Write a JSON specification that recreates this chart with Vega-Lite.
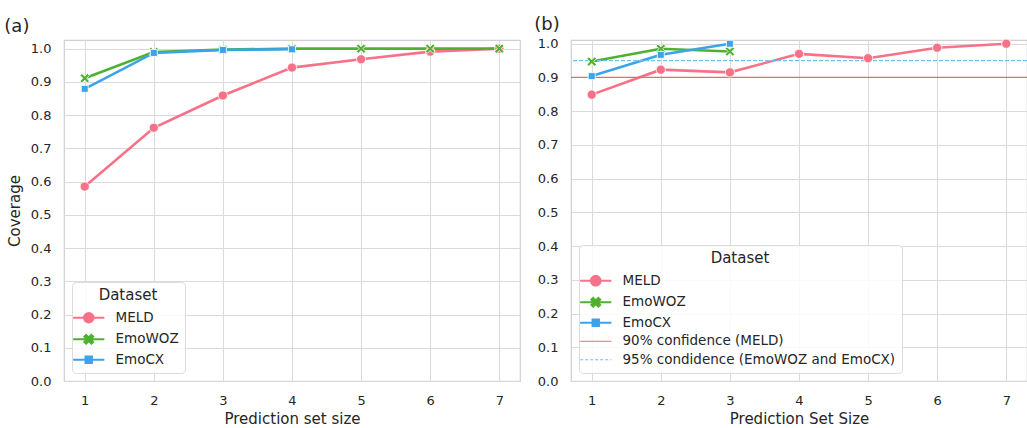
{
  "$schema": "https://vega.github.io/schema/vega-lite/v6.json",
  "padding": {"left": 3, "top": 14, "right": 0, "bottom": 0},
  "background": "white",
  "config": {
    "font": "DejaVu Sans",
    "view": {"stroke": "#cfcfcf", "strokeWidth": 1.2},
    "axis": {"grid": true, "gridColor": "#dadada", "gridWidth": 1, "domain": false, "ticks": false, "tickSize": 0, "labelFontSize": 13, "labelColor": "#262626", "titleFontSize": 15, "titleColor": "#262626", "titleFontWeight": "normal", "labelPadding": 13, "labelOverlap": false, "labelFlush": false},
    "legend": {"titleFontSize": 15, "titleFontWeight": "normal", "titleColor": "#262626", "titleAnchor": "middle", "labelFontSize": 13.5, "labelColor": "#262626", "labelLimit": 500, "fillColor": "rgba(255,255,255,0.85)", "strokeColor": "#dcdcdc", "cornerRadius": 4, "padding": 6, "offset": 8, "symbolSize": 64, "symbolOffset": 4, "labelOffset": 20, "rowPadding": 3.5, "titlePadding": 8},
    "title": {"fontSize": 18, "fontWeight": "normal", "color": "#262626"},
    "concat": {"spacing": 12}
  },
  "datasets": {
    "a": [
      {"SetSize": 1, "Coverage": 0.585, "Dataset": "MELD"},
      {"SetSize": 2, "Coverage": 0.762, "Dataset": "MELD"},
      {"SetSize": 3, "Coverage": 0.859, "Dataset": "MELD"},
      {"SetSize": 4, "Coverage": 0.943, "Dataset": "MELD"},
      {"SetSize": 5, "Coverage": 0.968, "Dataset": "MELD"},
      {"SetSize": 6, "Coverage": 0.991, "Dataset": "MELD"},
      {"SetSize": 7, "Coverage": 1.0, "Dataset": "MELD"},
      {"SetSize": 1, "Coverage": 0.911, "Dataset": "EmoWOZ"},
      {"SetSize": 2, "Coverage": 0.99, "Dataset": "EmoWOZ"},
      {"SetSize": 3, "Coverage": 0.997, "Dataset": "EmoWOZ"},
      {"SetSize": 4, "Coverage": 1.0, "Dataset": "EmoWOZ"},
      {"SetSize": 5, "Coverage": 1.0, "Dataset": "EmoWOZ"},
      {"SetSize": 6, "Coverage": 1.0, "Dataset": "EmoWOZ"},
      {"SetSize": 7, "Coverage": 1.0, "Dataset": "EmoWOZ"},
      {"SetSize": 1, "Coverage": 0.879, "Dataset": "EmoCX"},
      {"SetSize": 2, "Coverage": 0.987, "Dataset": "EmoCX"},
      {"SetSize": 3, "Coverage": 0.996, "Dataset": "EmoCX"},
      {"SetSize": 4, "Coverage": 0.998, "Dataset": "EmoCX"}
    ],
    "b": [
      {"SetSize": 1, "Coverage": 0.849, "Dataset": "MELD"},
      {"SetSize": 2, "Coverage": 0.923, "Dataset": "MELD"},
      {"SetSize": 3, "Coverage": 0.915, "Dataset": "MELD"},
      {"SetSize": 4, "Coverage": 0.97, "Dataset": "MELD"},
      {"SetSize": 5, "Coverage": 0.957, "Dataset": "MELD"},
      {"SetSize": 6, "Coverage": 0.988, "Dataset": "MELD"},
      {"SetSize": 7, "Coverage": 1.0, "Dataset": "MELD"},
      {"SetSize": 1, "Coverage": 0.947, "Dataset": "EmoWOZ"},
      {"SetSize": 2, "Coverage": 0.985, "Dataset": "EmoWOZ"},
      {"SetSize": 3, "Coverage": 0.977, "Dataset": "EmoWOZ"},
      {"SetSize": 1, "Coverage": 0.904, "Dataset": "EmoCX"},
      {"SetSize": 2, "Coverage": 0.967, "Dataset": "EmoCX"},
      {"SetSize": 3, "Coverage": 1.0, "Dataset": "EmoCX"}
    ],
    "thr": [
      {"Dataset": "90% confidence (MELD)", "Coverage": 0.9},
      {"Dataset": "95% condidence (EmoWOZ and EmoCX)", "Coverage": 0.95}
    ]
  },
  "resolve": {"scale": {"color": "independent", "x": "independent", "y": "independent", "strokeDash": "independent"}, "legend": {"color": "independent"}, "axis": {"x": "independent", "y": "independent"}},
  "hconcat": [
    {
      "width": 456,
      "height": 341,
      "title": {"text": "(a)", "anchor": "start", "frame": "bounds", "dx": -3},
      "data": {"name": "a"},
      "encoding": {
        "x": {"field": "SetSize", "type": "quantitative", "scale": {"domain": [0.7, 7.3], "nice": false, "zero": false}, "axis": {"values": [1, 2, 3, 4, 5, 6, 7], "format": "d", "title": "Prediction set size"}},
        "y": {"field": "Coverage", "type": "quantitative", "scale": {"domain": [0, 1.026], "nice": false}, "axis": {"values": [0, 0.1, 0.2, 0.3, 0.4, 0.5, 0.6, 0.7, 0.8, 0.9, 1.0], "format": ".1f", "title": "Coverage", "titlePadding": 8}}
      },
      "layer": [
        {
          "mark": {"type": "line", "strokeWidth": 2.6},
          "encoding": {
            "color": {"field": "Dataset", "type": "nominal", "scale": {"domain": ["MELD", "EmoWOZ", "EmoCX"], "range": ["#f77189", "#50b131", "#3ba3ec"]},
              "legend": {"title": "Dataset", "orient": "bottom-left",
                "encode": {"symbols": {"update": {
                  "shape": {"signal": "datum.value === 'MELD' ? 'M-3.9,0H3.9M1.2,0A1.2,1.2 0 1 1 -1.2,0A1.2,1.2 0 1 1 1.2,0Z' : datum.value === 'EmoWOZ' ? 'M-3.9,0H3.9M-1.1,-0.66L-0.66,-1.1L0,-0.44L0.66,-1.1L1.1,-0.66L0.44,0L1.1,0.66L0.66,1.1L0,0.44L-0.66,1.1L-1.1,0.66L-0.44,0Z' : 'M-3.9,0H3.9M-0.8,-0.8H0.8V0.8H-0.8Z'"},
                  "fill": {"signal": "datum.value === 'MELD' ? '#f77189' : datum.value === 'EmoWOZ' ? '#50b131' : '#3ba3ec'"},
                  "stroke": {"signal": "datum.value === 'MELD' ? '#f77189' : datum.value === 'EmoWOZ' ? '#50b131' : '#3ba3ec'"},
                  "strokeWidth": {"value": 2},
                  "opacity": {"value": 1}
                }}}
              }
            }
          }
        },
        {
          "transform": [{"filter": "datum.Dataset === 'MELD'"}],
          "mark": {"type": "point", "shape": "circle", "size": 85, "filled": true, "opacity": 1, "fill": "#f77189", "stroke": "white", "strokeWidth": 0.8}
        },
        {
          "transform": [{"filter": "datum.Dataset === 'EmoWOZ'"}],
          "mark": {"type": "point", "shape": "M-1,-0.6L-0.6,-1L0,-0.4L0.6,-1L1,-0.6L0.4,0L1,0.6L0.6,1L0,0.4L-0.6,1L-1,0.6L-0.4,0Z", "size": 90, "filled": true, "opacity": 1, "fill": "#50b131", "stroke": "white", "strokeWidth": 0.8}
        },
        {
          "transform": [{"filter": "datum.Dataset === 'EmoCX'"}],
          "mark": {"type": "point", "shape": "square", "size": 48, "filled": true, "opacity": 1, "fill": "#3ba3ec", "stroke": "white", "strokeWidth": 0.8}
        }
      ]
    },
    {
      "width": 456,
      "height": 341,
      "title": {"text": "(b)", "anchor": "start", "frame": "bounds", "dx": -3},
      "encoding": {
        "y": {"field": "Coverage", "type": "quantitative", "scale": {"domain": [0, 1.011], "nice": false}, "axis": {"values": [0, 0.1, 0.2, 0.3, 0.4, 0.5, 0.6, 0.7, 0.8, 0.9, 1.0], "format": ".1f", "title": null}}
      },
      "layer": [
        {
          "data": {"name": "b"},
          "mark": {"type": "line", "strokeWidth": 2.6},
          "encoding": {
            "x": {"field": "SetSize", "type": "quantitative", "scale": {"domain": [0.7, 7.3], "nice": false, "zero": false}, "axis": {"values": [1, 2, 3, 4, 5, 6, 7], "format": "d", "title": "Prediction Set Size"}},
            "color": {"field": "Dataset", "type": "nominal", "scale": {"domain": ["MELD", "EmoWOZ", "EmoCX", "90% confidence (MELD)", "95% condidence (EmoWOZ and EmoCX)"], "range": ["#f77189", "#50b131", "#3ba3ec", "#e46a76", "#6fc3e6"]},
              "legend": {"title": "Dataset", "orient": "bottom-left",
                "encode": {"symbols": {"update": {
                  "shape": {"signal": "datum.value === 'MELD' ? 'M-3.9,0H3.9M1.2,0A1.2,1.2 0 1 1 -1.2,0A1.2,1.2 0 1 1 1.2,0Z' : datum.value === 'EmoWOZ' ? 'M-3.9,0H3.9M-1.1,-0.66L-0.66,-1.1L0,-0.44L0.66,-1.1L1.1,-0.66L0.44,0L1.1,0.66L0.66,1.1L0,0.44L-0.66,1.1L-1.1,0.66L-0.44,0Z' : datum.value === 'EmoCX' ? 'M-3.9,0H3.9M-0.8,-0.8H0.8V0.8H-0.8Z' : 'M-3.9,0H3.9'"},
                  "fill": {"signal": "datum.value === 'MELD' ? '#f77189' : datum.value === 'EmoWOZ' ? '#50b131' : datum.value === 'EmoCX' ? '#3ba3ec' : 'transparent'"},
                  "stroke": {"signal": "datum.value === 'MELD' ? '#f77189' : datum.value === 'EmoWOZ' ? '#50b131' : datum.value === 'EmoCX' ? '#3ba3ec' : datum.value === '90% confidence (MELD)' ? '#e46a76' : '#6fc3e6'"},
                  "strokeWidth": {"signal": "datum.index > 2 ? 1.2 : 2"},
                  "strokeDash": {"signal": "datum.index === 4 ? [3, 2] : [1, 0]"},
                  "opacity": {"value": 1}
                }}}
              }
            }
          }
        },
        {
          "data": {"name": "thr"},
          "mark": {"type": "rule", "strokeWidth": 1.2},
          "encoding": {
            "color": {"field": "Dataset", "type": "nominal", "legend": null},
            "strokeDash": {"field": "Dataset", "type": "nominal", "scale": {"domain": ["90% confidence (MELD)", "95% condidence (EmoWOZ and EmoCX)"], "range": [[1, 0], [4, 2]]}, "legend": null}
          }
        },
        {
          "data": {"name": "b"},
          "transform": [{"filter": "datum.Dataset === 'MELD'"}],
          "mark": {"type": "point", "shape": "circle", "size": 85, "filled": true, "opacity": 1, "fill": "#f77189", "stroke": "white", "strokeWidth": 0.8},
          "encoding": {
            "x": {"field": "SetSize", "type": "quantitative", "scale": {"domain": [0.7, 7.3], "nice": false, "zero": false}, "axis": {"values": [1, 2, 3, 4, 5, 6, 7], "format": "d", "title": "Prediction Set Size"}}
          }
        },
        {
          "data": {"name": "b"},
          "transform": [{"filter": "datum.Dataset === 'EmoWOZ'"}],
          "mark": {"type": "point", "shape": "M-1,-0.6L-0.6,-1L0,-0.4L0.6,-1L1,-0.6L0.4,0L1,0.6L0.6,1L0,0.4L-0.6,1L-1,0.6L-0.4,0Z", "size": 90, "filled": true, "opacity": 1, "fill": "#50b131", "stroke": "white", "strokeWidth": 0.8},
          "encoding": {
            "x": {"field": "SetSize", "type": "quantitative", "scale": {"domain": [0.7, 7.3], "nice": false, "zero": false}, "axis": {"values": [1, 2, 3, 4, 5, 6, 7], "format": "d", "title": "Prediction Set Size"}}
          }
        },
        {
          "data": {"name": "b"},
          "transform": [{"filter": "datum.Dataset === 'EmoCX'"}],
          "mark": {"type": "point", "shape": "square", "size": 48, "filled": true, "opacity": 1, "fill": "#3ba3ec", "stroke": "white", "strokeWidth": 0.8},
          "encoding": {
            "x": {"field": "SetSize", "type": "quantitative", "scale": {"domain": [0.7, 7.3], "nice": false, "zero": false}, "axis": {"values": [1, 2, 3, 4, 5, 6, 7], "format": "d", "title": "Prediction Set Size"}}
          }
        }
      ]
    }
  ]
}
